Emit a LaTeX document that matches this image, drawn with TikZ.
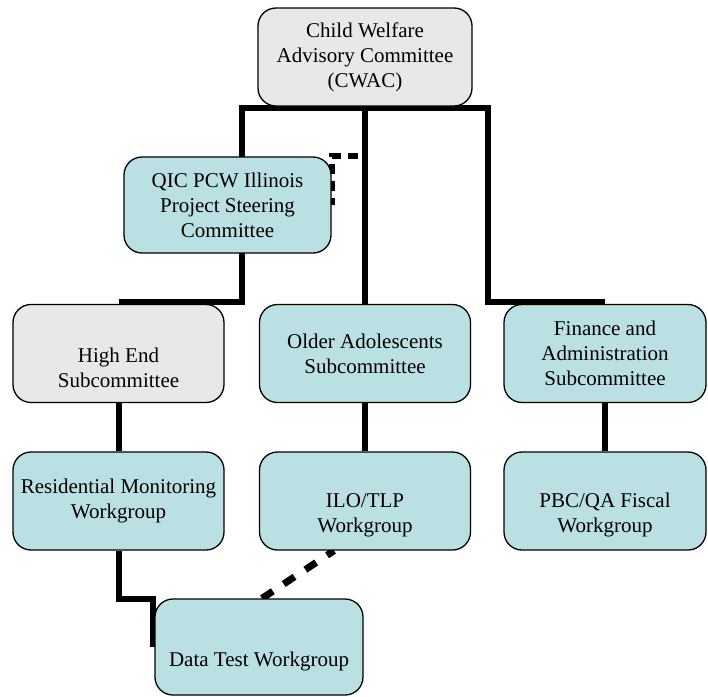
\documentclass[tikz,border=0pt]{standalone}
\usepackage{fontspec}
\setmainfont{Liberation Serif}
\usetikzlibrary{backgrounds,calc}
\definecolor{boxgray}{RGB}{232,232,232}
\definecolor{boxteal}{RGB}{187,224,227}
\begin{document}
\begin{tikzpicture}[x=1pt,y=-1pt,
  box/.style={draw=black, line width=1.3pt, rounded corners=18pt, align=center,
    inner sep=0pt, font=\fontsize{21}{25}\selectfont},
  gbox/.style={box, fill=boxgray},
  tbox/.style={box, fill=boxteal},
  colbox/.style={minimum width=211pt, minimum height=98pt},
  lbl/.style={align=center, font=\fontsize{21}{25}\selectfont, yshift=-14pt},
  conn/.style={line width=6pt, line join=miter},
  dconn/.style={line width=6pt, dash pattern=on 10pt off 7pt},
  ddiag/.style={line width=7pt, dash pattern=on 13pt off 13pt},
]
\useasboundingbox (0,0) rectangle (708,696);

% boxes
\node[gbox, minimum width=214pt, minimum height=98pt] (cwac) at (365,57)
  {Child Welfare\\Advisory Committee\\(CWAC)};
\node[tbox, minimum width=207pt, minimum height=96pt] (qic) at (227.5,205)
  {QIC PCW Illinois\\Project Steering\\Committee};
\node[gbox, colbox] (high) at (118.5,353.5)
  [label={[lbl]center:{High End\\Subcommittee}}] {};
\node[tbox, colbox] (older) at (365,353.5)
  {Older Adolescents\\Subcommittee};
\node[tbox, colbox, minimum width=202pt] (fin) at (605,353.5)
  {Finance and\\Administration\\Subcommittee};
\node[tbox, colbox] (res) at (118.5,501)
  {Residential Monitoring\\Workgroup};
\node[tbox, colbox] (ilo) at (365,501)
  [label={[lbl]center:{ILO/TLP\\Workgroup}}] {};
\node[tbox, colbox, minimum width=202pt] (pbc) at (605,501)
  [label={[lbl]center:{PBC/QA Fiscal\\Workgroup}}] {};
\node[tbox, minimum width=208pt, minimum height=96pt] (dt) at (259,647)
  [label={[lbl]center:{Data Test Workgroup}}] {};

% connectors
\coordinate (busL) at (242,108);
\coordinate (busR) at (488,108);
\coordinate (qd) at (358,156);
\begin{pgfonlayer}{background}
  \draw[conn] ([yshift=2pt]high.north) -| (busL) -- (busR) |- ([yshift=2pt]fin.north);
  \draw[conn] (cwac.south) -- (older.north);
  \draw[conn] (high.south) -- (res.north);
  \draw[conn] (older.south) -- (ilo.north);
  \draw[conn] (fin.south) -- (pbc.north);
  \draw[conn] (res.south) |- ([xshift=-1pt,yshift=-1pt]dt.north west) -- ([xshift=-1pt]dt.west);
  \draw[dconn] (qd) -| (qic.east);
  \draw[ddiag] ([xshift=3pt]dt.north) -- ([xshift=-31pt]ilo.south);
\end{pgfonlayer}
\end{tikzpicture}
\end{document}
